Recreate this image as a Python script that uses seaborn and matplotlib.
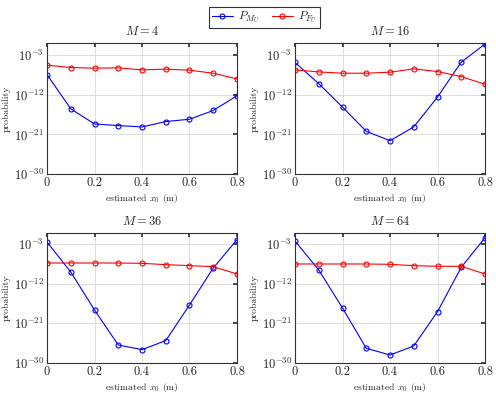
import numpy as np
import pandas as pd
import matplotlib.pyplot as plt
import seaborn as sns
from matplotlib.ticker import FixedLocator, NullLocator

sns.set_theme(style="white")
plt.rcParams['font.family'] = ['cmr10', 'DejaVu Serif']
plt.rcParams['mathtext.fontset'] = 'cm'
plt.rcParams['axes.formatter.use_mathtext'] = True

# estimated position of the target
x0 = [0, 0.1, 0.2, 0.3, 0.4, 0.5, 0.6, 0.7, 0.8]
M_values = [4, 16, 36, 64]

# log10 of the probabilities
pmu_exp = {
    4: [-7.36, -15.16, -18.6, -18.98, -19.28, -18.06, -17.53, -15.54, -12.17],
    16: [-4.61, -9.42, -14.77, -20.28, -22.42, -19.28, -12.48, -4.53, -0.40],
    36: [-2.47, -9.29, -17.94, -25.9, -26.96, -24.91, -16.8, -8.38, -1.94],
    64: [-2.24, -8.84, -17.48, -26.66, -28.17, -26.13, -18.31, -8.23, -1.48],
}
pfu_exp = {
    4: [-5.22, -5.75, -5.9, -5.83, -6.29, -6.13, -6.36, -7.05, -8.35],
    16: [-6.29, -6.75, -7.05, -7.05, -6.82, -6.06, -6.67, -7.82, -9.57],
    36: [-7.25, -7.25, -7.25, -7.25, -7.32, -7.62, -7.85, -8.08, -9.75],
    64: [-7.47, -7.47, -7.47, -7.47, -7.55, -7.85, -8.0, -8.0, -9.75],
}
ytop = {4: -0.17, 16: -0.17, 36: -0.42, 64: -0.42}

W, H = 496, 393
fig = plt.figure(figsize=(W / 100, H / 100), dpi=100)

# axes boxes in pixels: left, right, top, bottom
boxes = {
    4: (47, 237, 43, 174),
    16: (295, 485, 43, 174),
    36: (47, 237, 233, 363),
    64: (295, 485, 233, 363),
}

lines = []
for M in M_values:
    l, r, t, b = boxes[M]
    ax = fig.add_axes([l / W, 1 - b / H, (r - l) / W, (b - t) / H])
    df = pd.DataFrame({
        "x": x0 * 2,
        "p": [10.0 ** v for v in pmu_exp[M]] + [10.0 ** v for v in pfu_exp[M]],
        "series": ["$P_{M_U}$"] * 9 + ["$P_{F_U}$"] * 9,
    })
    sns.lineplot(data=df, x="x", y="p", hue="series", palette=["blue", "red"],
                 marker="o", markersize=3.6, markerfacecolor="none",
                 markeredgewidth=0.8, linewidth=0.8, ax=ax, legend=False)
    for ln, c in zip(ax.get_lines(), ["blue", "red"]):
        ln.set_markeredgecolor(c)
    ax.set_yscale("log")
    ax.set_xlim(0, 0.8)
    ax.set_ylim(1e-30, 10 ** ytop[M])
    ax.yaxis.set_major_locator(FixedLocator([1e-30, 1e-21, 1e-12, 1e-3]))
    ax.yaxis.set_minor_locator(NullLocator())
    ax.set_yticklabels(["$10^{-30}$", "$10^{-21}$", "$10^{-12}$", "$10^{-3}$"])
    ax.set_xticks([0, 0.2, 0.4, 0.6, 0.8])
    ax.set_xticklabels(["0", "0.2", "0.4", "0.6", "0.8"])
    ax.grid(True, color="#d9d9d9", linewidth=0.6)
    ax.set_axisbelow(True)
    for s in ax.spines.values():
        s.set_color("#333333")
        s.set_linewidth(0.8)
    ax.tick_params(direction="in", length=3, labelsize=9, pad=2,
                   top=True, right=True, color="#333333")
    ax.set_xlabel("estimated $x_0$ (m)", fontsize=7, labelpad=2)
    ax.set_ylabel("probability", fontsize=7, labelpad=2)
    ax.set_title(f"$M = {M}$", fontsize=9, pad=6)
    lines = ax.get_lines()[:2]

fig.legend(lines, ["$P_{M_U}$", "$P_{F_U}$"], loc="upper center",
           bbox_to_anchor=(0.533, 0.997), ncol=2, fontsize=8.5, frameon=True,
           fancybox=False, edgecolor="black", handlelength=1.8,
           columnspacing=1.0, borderpad=0.25, handletextpad=0.4)
fig.legends[0].get_frame().set_linewidth(0.8)

fig.savefig("out.png", dpi=100)
